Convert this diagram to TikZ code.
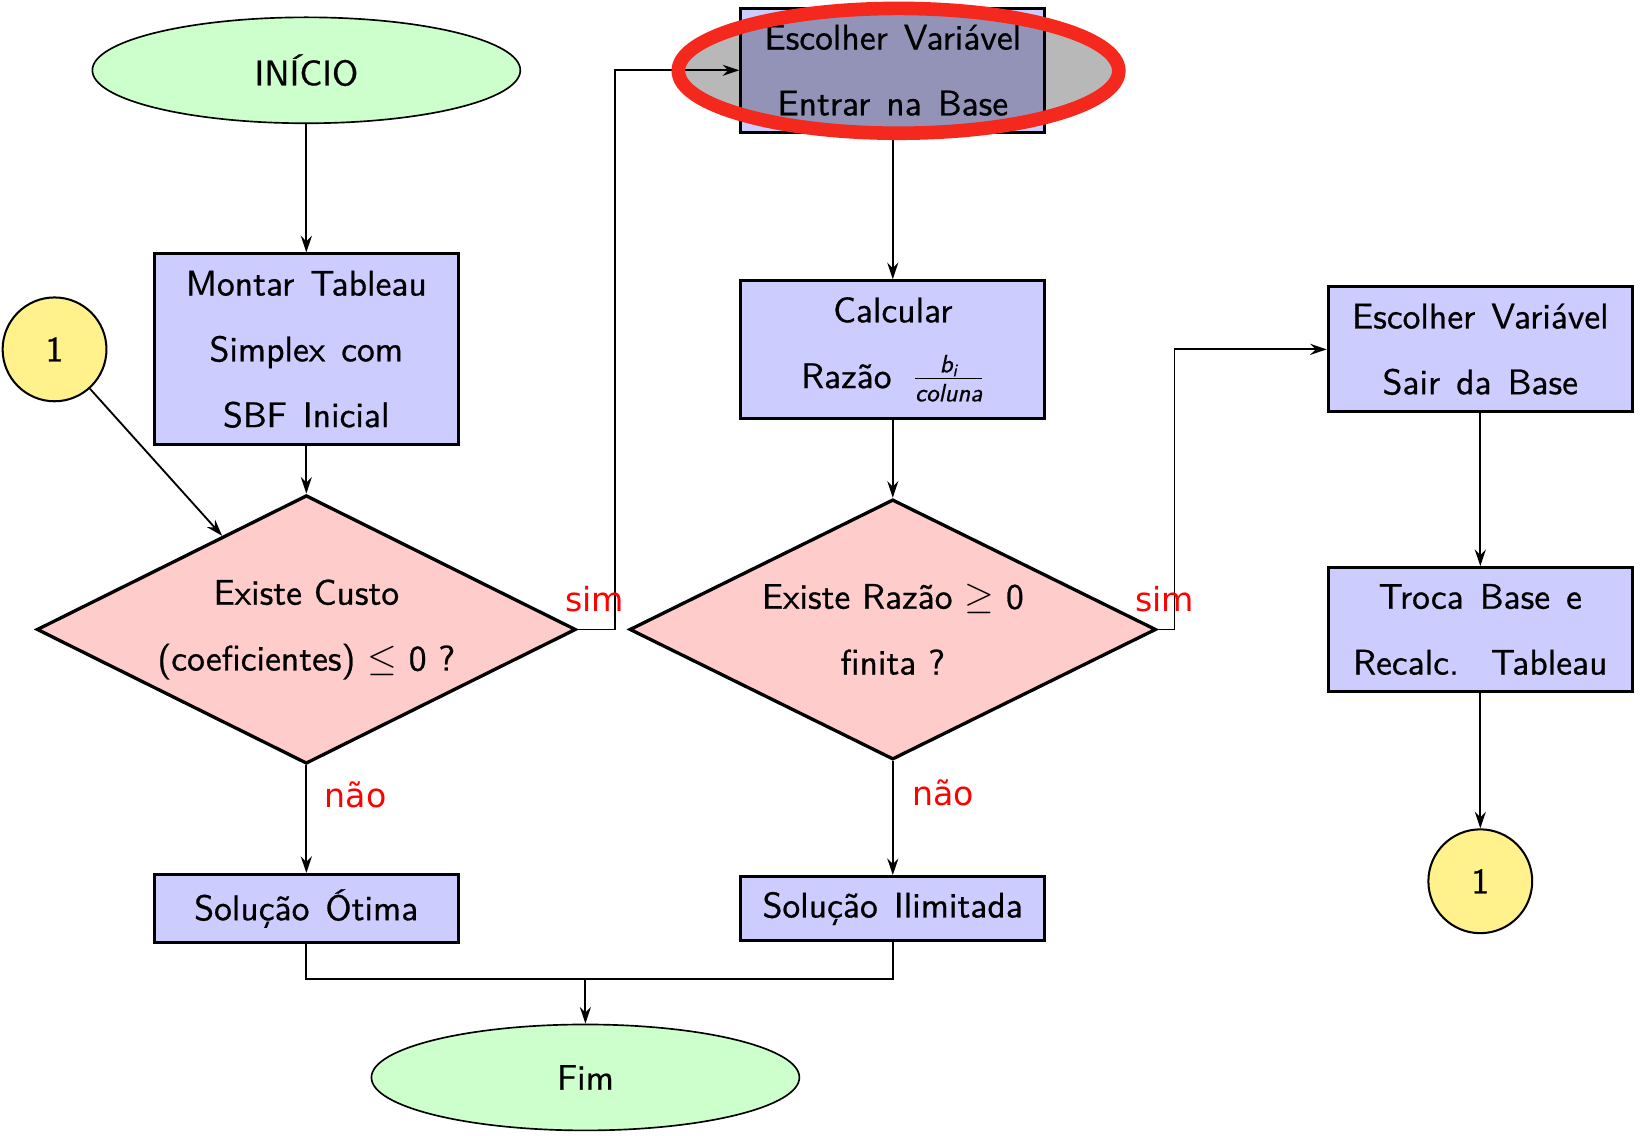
\documentclass[tikz,border=0pt]{standalone}
\usepackage{amsmath}
\usepackage{fontspec}
\newfontfamily\labfont{DejaVu Sans}
\newfontfamily\heavysf[BoldFont=lmsans10-regular.otf, BoldFeatures={FakeBold=0.7}, ItalicFont=lmsans10-oblique.otf, BoldItalicFont=lmsans10-oblique.otf, BoldItalicFeatures={FakeBold=0.7}]{lmsans10-regular.otf}
\usetikzlibrary{shapes.geometric,arrows.meta}
\definecolor{boxblue}{RGB}{204,204,255}
\definecolor{decred}{RGB}{255,204,204}
\definecolor{termgreen}{RGB}{204,255,204}
\definecolor{connyellow}{RGB}{255,242,140}
\definecolor{hlred}{RGB}{245,40,30}
\newcommand\wsp{\hspace{0.45em}}
\begin{document}
\begin{tikzpicture}[x=0.02cm,y=-0.02cm,
  txt/.style={font=\heavysf\bfseries\fontsize{19.3}{35.7}\selectfont, align=center},
  proc/.style={txt, draw, line width=1.6pt, fill=boxblue, minimum width=5.8cm, inner sep=0pt},
  term/.style={txt, ellipse, draw, line width=0.9pt, fill=termgreen, minimum width=8.16cm, minimum height=2.02cm},
  conn/.style={txt, circle, draw, line width=1.1pt, fill=connyellow, minimum size=1.98cm, inner sep=0pt},
  dec/.style={txt, diamond, aspect=2, draw, line width=1.8pt, fill=decred, inner sep=0pt},
  arr/.style={-{Stealth[length=9pt,width=6pt,inset=3pt]}, line width=1pt},
  lnk/.style={line width=1pt},
  lab/.style={font=\labfont\fontsize{18}{20}\selectfont, text=red},
  hilite/.style={ellipse, draw=hlred, line width=0.26cm, fill=black, fill opacity=0.28, minimum width=8.4cm, minimum height=2.38cm}
]
\useasboundingbox (0,0) rectangle (1568,1082);

\node[term] (ini) at (292,67) {INÍCIO};
\node[proc, minimum height=3.64cm] (mont) at (292,333) {Montar\wsp Tableau\\Simplex\wsp com\\SBF\wsp Inicial};
\node[conn] (c1) at (52,333) {1};
\node[dec, minimum width=10.28cm, minimum height=5.12cm] (d1) at (292,600) {Existe Custo\\(coeficientes) $\leq$ 0 ?};
\node[proc, minimum height=2.36cm] (esc) at (851,67) {Escolher\wsp Variável\\Entrar\wsp na\wsp Base};
\node[proc, minimum height=2.62cm] (calc) at (851,333) {Calcular\\Razão\hspace{0.6em}\(\frac{\textit{b}_{\textit{i}}}{\textit{coluna}}\)};
\node[dec, minimum width=10.04cm, minimum height=4.96cm] (d2) at (851,600) {Existe Razão $\geq$ 0\\finita ?};
\node[proc, minimum height=2.38cm] (sair) at (1411,333) {Escolher\wsp Variável\\Sair\wsp da\wsp Base};
\node[proc, minimum height=2.36cm] (troca) at (1411,600) {Troca\wsp Base\wsp e\\Recalc.\wsp\wsp Tableau};
\node[conn] (c2) at (1411,840) {1};
\node[proc, minimum height=1.3cm] (ot) at (292,866) {Solução\wsp Ótima};
\node[proc, minimum height=1.22cm] (il) at (851,866) {Solução\wsp Ilimitada};
\node[term] (fim) at (558,1027) {Fim};

\draw[arr] (ini) -- (mont);
\draw[arr] (mont) -- (d1);
\draw[arr] (c1) -- (d1);
\draw[arr] (d1.east) -- ++(36,0) |- (esc.west);
\draw[arr] (esc) -- (calc);
\draw[arr] (calc) -- (d2);
\draw[arr] (d2.east) -- ++(16,0) |- (sair.west);
\draw[arr] (sair) -- (troca);
\draw[arr] (troca) -- (c2);
\draw[arr] (d1) -- (ot);
\draw[arr] (d2) -- (il);
\coordinate (mg) at (558,933);
\draw[lnk] (ot.south) |- (mg) -| (il.south);
\draw[arr] (mg) -- (fim);

\node[hilite] (hl) at (856.5,67.5) {};

\node[lab] (s1) at (567,571) {sim};
\node[lab] (s2) at (1110,571) {sim};
\node[lab] (n1) at (339,758) {não};
\node[lab] (n2) at (899,756) {não};
\end{tikzpicture}
\end{document}
